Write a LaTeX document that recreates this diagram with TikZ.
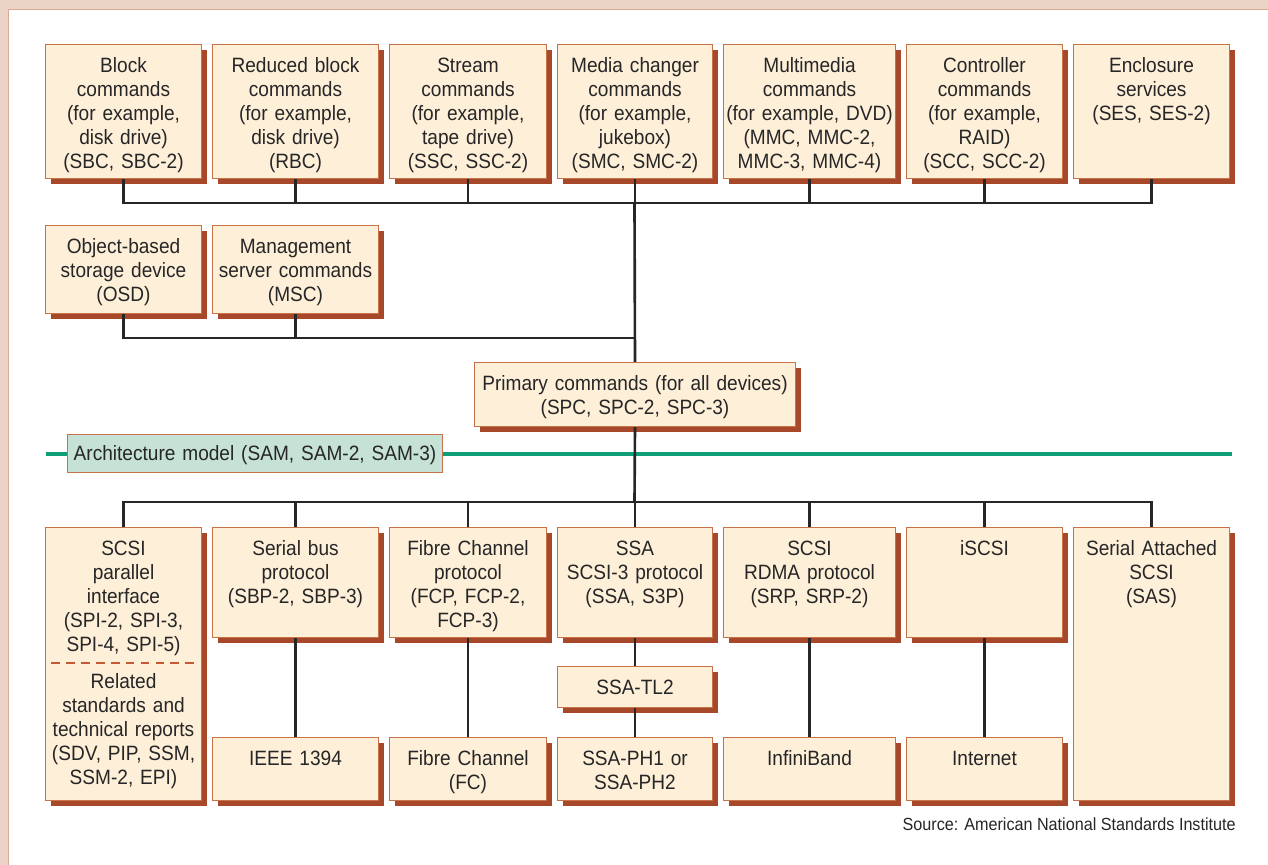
\documentclass[tikz,border=0pt]{standalone}
\usepackage{fontspec}
\setmainfont[FakeStretch=0.92]{Liberation Sans}
\usetikzlibrary{shadows}

\definecolor{strip}{HTML}{EBD4C5}
\definecolor{stripline}{HTML}{D8AB92}
\definecolor{cream}{HTML}{FEEFD9}
\definecolor{edge}{HTML}{C8724A}
\definecolor{rust}{HTML}{A8482A}
\definecolor{sage}{HTML}{C6E1D5}
\definecolor{jade}{HTML}{0E9F79}
\definecolor{ink}{HTML}{262626}
\definecolor{dashred}{HTML}{C45A35}

\begin{document}
\begin{tikzpicture}[x=0.02cm, y=-0.02cm,
    every node/.style={font=\fontsize{11.8}{13.6}\selectfont, text=ink},
    plainbox/.style={draw=edge, line width=0.6pt, fill=cream, anchor=north west,
        align=center, inner sep=0pt, text height=0.56cm},
    stdbox/.style={plainbox,
        drop shadow={shadow xshift=0.11cm, shadow yshift=-0.11cm, fill=rust, opacity=1}},
    toprow/.style={stdbox, text depth=2.12cm},
    midrow/.style={stdbox, text depth=1.2cm},
    protrow/.style={stdbox, text depth=1.64cm},
    fullrow/.style={stdbox, text depth=4.9cm},
    linkrow/.style={stdbox, text depth=0.7cm},
    wire/.style={draw=ink, line width=1.5pt}]
\useasboundingbox (0,0) rectangle (1268,865);

% frame
\fill[strip] (0,0) rectangle (1268,9);
\fill[strip] (0,0) rectangle (8,865);
\draw[stripline, line width=0.8pt] (1268,9.5) -- (8.5,9.5) -- (8.5,865);

% architecture line
\draw[jade, line width=2.8pt] (46,454) -- (1232,454);

% command sets
\node[toprow, text width=3.12cm] (blk) at (45,44) {Block\\commands\\(for example,\\disk drive)\\(SBC, SBC-2)};
\node[toprow, text width=3.32cm] (rbc) at (212,44) {Reduced block\\commands\\(for example,\\disk drive)\\(RBC)};
\node[toprow, text width=3.14cm] (ssc) at (389,44) {Stream\\commands\\(for example,\\tape drive)\\(SSC, SSC-2)};
\node[toprow, text width=3.1cm] (smc) at (557,44) {Media changer\\commands\\(for example,\\jukebox)\\(SMC, SMC-2)};
\node[toprow, text width=3.44cm] (mmc) at (723,44) {Multimedia\\commands\\(for example, DVD)\\(MMC, MMC-2,\\MMC-3, MMC-4)};
\node[toprow, text width=3.12cm] (scc) at (906,44) {Controller\\commands\\(for example,\\RAID)\\(SCC, SCC-2)};
\node[toprow, text width=3.12cm] (ses) at (1073,44) {Enclosure\\services\\(SES, SES-2)};

\node[midrow, text width=3.12cm] (osd) at (45,225) {Object-based\\storage device\\(OSD)};
\node[midrow, text width=3.32cm] (msc) at (212,225) {Management\\server commands\\(MSC)};

\node[stdbox, text width=6.42cm, text depth=0.72cm] (prim) at (474,362) {Primary commands (for all devices)\\(SPC, SPC-2, SPC-3)};

\node[plainbox, fill=sage, text width=7.5cm, text height=0.51cm, text depth=0.25cm] (sam) at (67,434) {Architecture model (SAM, SAM-2, SAM-3)};

% transports
\node[fullrow, text width=3.12cm] (spi) at (45,527) {SCSI\\parallel\\interface\\(SPI-2, SPI-3,\\SPI-4, SPI-5)\\[7.9pt]Related\\standards and\\technical reports\\(SDV, PIP, SSM,\\SSM-2, EPI)};
\node[protrow, text width=3.32cm] (sbp) at (212,527) {Serial bus\\protocol\\(SBP-2, SBP-3)};
\node[protrow, text width=3.14cm] (fcp) at (389,527) {Fibre Channel\\protocol\\(FCP, FCP-2,\\FCP-3)};
\node[protrow, text width=3.1cm] (ssa) at (557,527) {SSA\\SCSI-3 protocol\\(SSA, S3P)};
\node[protrow, text width=3.44cm] (srp) at (723,527) {SCSI\\RDMA protocol\\(SRP, SRP-2)};
\node[protrow, text width=3.12cm] (iscsi) at (906,527) {iSCSI};
\node[fullrow, text width=3.12cm] (sas) at (1073,527) {Serial Attached\\SCSI\\(SAS)};

\node[stdbox, text width=3.1cm, text depth=0.26cm] (tl2) at (557,666) {SSA-TL2};

\node[linkrow, text width=3.32cm] (ieee) at (212,737) {IEEE 1394};
\node[linkrow, text width=3.14cm] (fc) at (389,737) {Fibre Channel\\(FC)};
\node[linkrow, text width=3.1cm] (ph) at (557,737) {SSA-PH1 or\\SSA-PH2};
\node[linkrow, text width=3.44cm] (ib) at (723,737) {InfiniBand};
\node[linkrow, text width=3.12cm] (inet) at (906,737) {Internet};

\draw[dashred, line width=0.7pt, dash pattern=on 5pt off 3.5pt] (51,663) -- (197,663);

% connectors
\coordinate (tbus) at (634.5,203);
\coordinate (mbus) at (634.5,338);
\coordinate (bbus) at (634.5,502);
\foreach \n in {blk,rbc,ssc,smc,mmc,scc,ses}
    \draw[wire] (\n.south) |- (tbus);
\foreach \n in {osd,msc}
    \draw[wire] (\n.south) |- (mbus);
\draw[wire] (tbus) -- (prim.north);
\draw[wire] (prim.south) -- (bbus);
\foreach \n in {spi,sbp,fcp,ssa,srp,iscsi,sas}
    \draw[wire] (\n.north) |- (bbus);
\foreach \a/\b in {sbp/ieee,fcp/fc,ssa/tl2,tl2/ph,srp/ib,iscsi/inet}
    \draw[wire] (\a) -- (\b);

\node[anchor=east, inner sep=0pt, font=\fontsize{10}{12}\selectfont] (src) at (1236,824) {Source: American National Standards Institute};
\end{tikzpicture}
\end{document}
